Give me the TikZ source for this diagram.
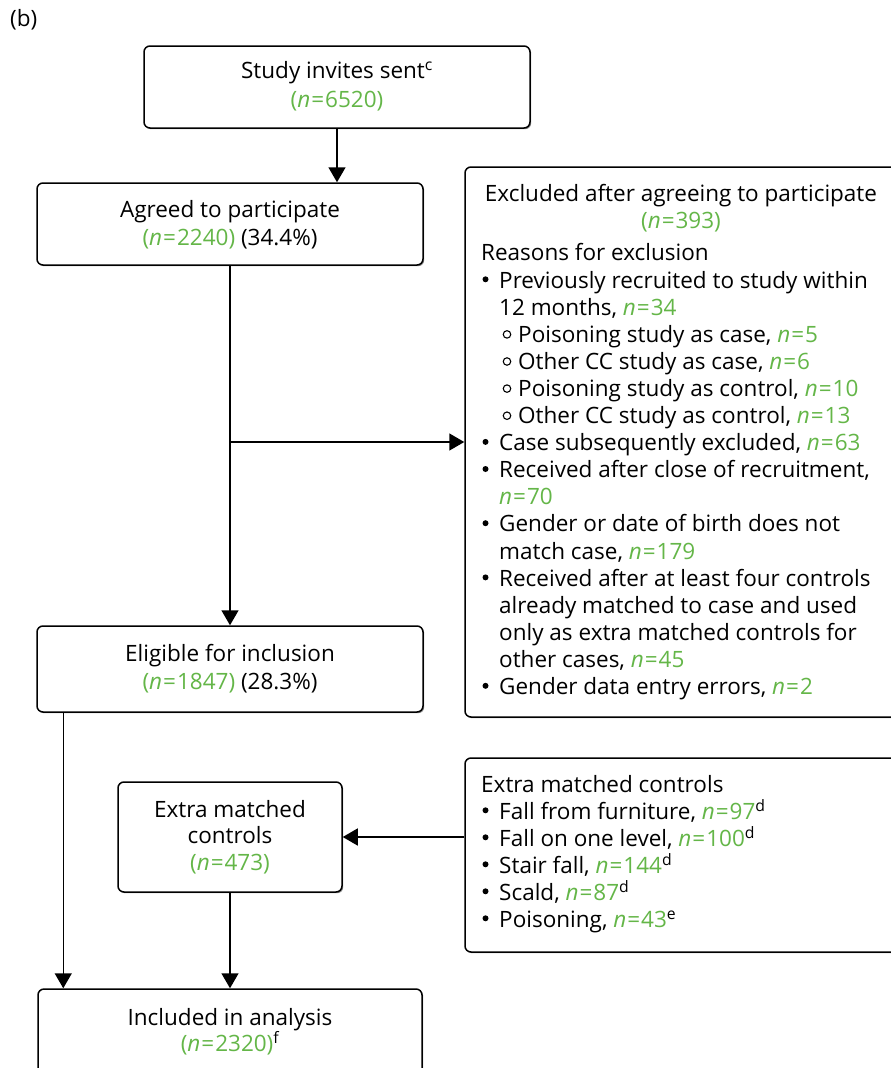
\documentclass[tikz,border=0pt]{standalone}
\usepackage{fontspec}
\setmainfont{Open Sans}
\usetikzlibrary{arrows.meta,shadows}
\definecolor{ngreen}{RGB}{100,182,72}
\newcommand{\nval}[1]{{\color{ngreen}\textit{n}\kern1pt=\kern1pt#1}}
\newcommand{\ncount}[1]{{\color{ngreen}(\textit{n}\kern1pt=\kern1pt#1)}}
% list helpers: bullet item, continuation line, sub-item with open circle
\newcommand{\bitem}[3]{\node[bulletdot] (#1b) at (485.5,#2-8.7) {}; \node[ltxt] (#1) at (499,#2) {#3};}
\newcommand{\citem}[3]{\node[ltxt] (#1) at (499,#2) {#3};}
\newcommand{\sitem}[3]{\node[subdot] (#1b) at (507,#2-7.8) {}; \node[ltxt] (#1) at (518,#2) {#3};}

\begin{document}
\begin{tikzpicture}[x=1pt,y=-1pt,
  font=\fontsize{22.5}{27}\selectfont,
  box/.style={draw, line width=1.5pt, rounded corners=6pt, fill=white, inner sep=0pt,
    drop shadow={shadow xshift=1.2pt, shadow yshift=-1.2pt, fill=black!45, opacity=1}},
  txt/.style={inner sep=0pt, anchor=base},
  ltxt/.style={inner sep=0pt, anchor=base west},
  bulletdot/.style={circle, fill, minimum size=6pt, inner sep=0pt},
  subdot/.style={circle, draw, line width=1.1pt, minimum size=7.5pt, inner sep=0pt},
  flow/.style={line width=1.5pt, -{Triangle[width=17pt,length=15pt]}}]
\useasboundingbox (0,0) rectangle (891,1068);
\clip (0,0) rectangle (891,1068);
\fill[white] (0,0) rectangle (891,1068);

\node[ltxt] (label) at (10,27) {(b)};

% boxes
\node[box, minimum width=386pt, minimum height=82pt] (invite) at (337,87) {};
\node[box, minimum width=386pt, minimum height=82pt] (agreed) at (230,224) {};
\node[box, minimum width=440pt, minimum height=550pt] (excl) at (685,442) {};
\node[box, minimum width=386pt, minimum height=86pt] (elig) at (230,669) {};
\node[box, minimum width=224pt, minimum height=110pt] (extra) at (230,837) {};
\node[box, minimum width=440pt, minimum height=194pt] (src) at (685,855) {};
\node[box, minimum width=384pt, minimum height=92pt] (incl) at (230,1035) {};

% box texts
\node[txt] (t1) at (337,78) {Study invites sent\textsuperscript{c}};
\node[txt] (t2) at (337,107) {\ncount{6520}};
\node[txt] (t3) at (230,217) {Agreed to participate};
\node[txt] (t4) at (230,245) {\ncount{2240} (34.4\%)};
\node[txt] (t5) at (230,661) {Eligible for inclusion};
\node[txt] (t6) at (230,689) {\ncount{1847} (28.3\%)};
\node[txt] (t7) at (230,817) {Extra matched};
\node[txt] (t8) at (230,843) {controls};
\node[txt] (t9) at (230,870) {\ncount{473}};
\node[txt] (t10) at (230,1025) {Included in analysis};
\node[txt] (t11) at (230,1051) {\ncount{2320}\textsuperscript{f}};

% exclusions
\node[txt] (eh1) at (681,201) {Excluded after agreeing to participate};
\node[txt] (eh2) at (681,228) {\ncount{393}};
\node[ltxt] (eh3) at (481,260) {Reasons for exclusion};
\bitem{e1}{288}{Previously recruited to study within}
\citem{e2}{315.1}{12 months, \nval{34}}
\sitem{e3}{342.2}{Poisoning study as case, \nval{5}}
\sitem{e4}{369.3}{Other CC study as case, \nval{6}}
\sitem{e5}{396.4}{Poisoning study as control, \nval{10}}
\sitem{e6}{423.5}{Other CC study as control, \nval{13}}
\bitem{e7}{450.6}{Case subsequently excluded, \nval{63}}
\bitem{e8}{477.7}{Received after close of recruitment,}
\citem{e9}{504.8}{\nval{70}}
\bitem{e10}{531.9}{Gender or date of birth does not}
\citem{e11}{559}{match case, \nval{179}}
\bitem{e12}{586.1}{Received after at least four controls}
\citem{e13}{613.2}{already matched to case and used}
\citem{e14}{640.3}{only as extra matched controls for}
\citem{e15}{667.4}{other cases, \nval{45}}
\bitem{e16}{694.5}{Gender data entry errors, \nval{2}}

% extra matched controls list
\node[ltxt] (xh) at (481,792) {Extra matched controls};
\bitem{x1}{819}{Fall from furniture, \nval{97}\textsuperscript{d}}
\bitem{x2}{846}{Fall on one level, \nval{100}\textsuperscript{d}}
\bitem{x3}{873}{Stair fall, \nval{144}\textsuperscript{d}}
\bitem{x4}{900}{Scald, \nval{87}\textsuperscript{d}}
\bitem{x5}{927}{Poisoning, \nval{43}\textsuperscript{e}}

% connectors
\draw[flow] (invite.south) -- (invite.south |- agreed.north);
\draw[flow] (agreed.south) -- (elig.north);
\coordinate (branch) at (230,442);
\draw[flow] (branch) -- (branch -| excl.west);
\draw[flow] (src.west |- extra.east) -- (extra.east);
\draw[flow] (extra.south) -- (incl.north);
\draw[flow] ([xshift=27pt]elig.south west) -- ([xshift=27pt]elig.south west |- incl.north);
\end{tikzpicture}
\end{document}
